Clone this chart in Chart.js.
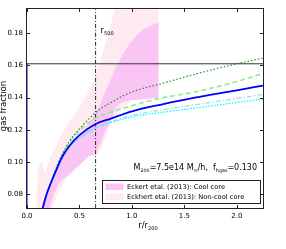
<!DOCTYPE html>
<html>
<head>
<meta charset="utf-8">
<script src="https://cdn.jsdelivr.net/npm/chart.js@4.4.0/dist/chart.umd.min.js"></script>
<style>
  html, body { margin: 0; padding: 0; background: #fff; }
  #wrap { width: 286px; height: 249px; }
</style>
</head>
<body>
<div id="wrap"><canvas id="gasFrac" width="286" height="249"></canvas></div>
<script>
// model curves on r/r200 grid
const rModel = [0.13, 0.143, 0.19, 0.238, 0.286, 0.333, 0.4, 0.5, 0.65, 0.8, 1.0, 1.3, 1.6, 2.0, 2.25];
const fgasSolid   = [0.067, 0.070, 0.0806, 0.0887, 0.0961, 0.103, 0.1097, 0.1167, 0.1235, 0.127, 0.1315, 0.136, 0.140, 0.1445, 0.1475];
const fgasDotted  = [0.067, 0.070, 0.0808, 0.089, 0.0975, 0.1045, 0.1125, 0.1205, 0.1305, 0.137, 0.1435, 0.149, 0.1545, 0.161, 0.1645];
const fgasDashed  = [0.067, 0.070, 0.0806, 0.0888, 0.0965, 0.1035, 0.1115, 0.1195, 0.127, 0.131, 0.135, 0.140, 0.1435, 0.150, 0.155];
const fgasDashDot = [0.067, 0.070, 0.0806, 0.0887, 0.096, 0.1025, 0.1095, 0.1155, 0.1215, 0.125, 0.129, 0.1325, 0.1355, 0.1395, 0.142];
const fgasCyan    = [0.067, 0.070, 0.0806, 0.0886, 0.0958, 0.102, 0.109, 0.115, 0.121, 0.1245, 0.128, 0.131, 0.1335, 0.137, 0.139];

// Eckert et al. (2013) non-cool core band
const rNcc     = [0.09, 0.10, 0.14, 0.17, 0.22, 0.31, 0.38, 0.50, 0.60, 0.65, 0.70, 0.84, 1.0, 1.255];
const nccUpper = [0.068, 0.095, 0.101, 0.093, 0.103, 0.115, 0.123, 0.134, 0.145, 0.152, 0.163, 0.195, 0.215, 0.24];
const nccLower = [0.065, 0.065, 0.065, 0.065, 0.068, 0.083, 0.09, 0.098, 0.104, 0.104, 0.108, 0.13, 0.138, 0.14];

// Eckert et al. (2013) cool core band
const rCc     = [0.15, 0.2, 0.26, 0.31, 0.41, 0.5, 0.59, 0.63, 0.69, 0.76, 0.81, 0.84, 0.89, 0.98, 1.1, 1.255];
const ccUpper = [0.072, 0.082, 0.092, 0.0995, 0.1115, 0.1175, 0.1235, 0.128, 0.135, 0.146, 0.153, 0.158, 0.164, 0.174, 0.182, 0.187];
const ccLower = [0.066, 0.068, 0.0806, 0.0875, 0.093, 0.098, 0.104, 0.1042, 0.110, 0.121, 0.127, 0.1334, 0.1365, 0.1384, 0.139, 0.1396];

const fBaryon = 0.161;
const r500 = 0.654;
const xTicks = [0.0, 0.5, 1.0, 1.5, 2.0];
const yTicks = [0.08, 0.10, 0.12, 0.14, 0.16, 0.18];
const legendLabels = ['Eckert etal. (2013): Cool core', 'Eckhert etal. (2013): Non-cool core'];

const FONT = "'DejaVu Sans', sans-serif";
const xMin = 0, xMax = 2.25, yMin = 0.0715, yMax = 0.195;

const pts = (xs, ys) => xs.map((x, i) => ({ x: x, y: ys[i] }));

function line(data, color, width, dash, order) {
  return {
    data: data, borderColor: color, borderWidth: width, borderDash: dash,
    pointRadius: 0, fill: false, order: order,
    cubicInterpolationMode: 'monotone'
  };
}

const pinkNcc = 'rgb(255,234,240)';
const pinkCc = 'rgb(250,196,244)';

const datasets = [
  { data: pts(rNcc, nccLower), borderColor: 'rgba(0,0,0,0)', borderWidth: 0, pointRadius: 0, fill: false, order: 12 },
  { data: pts(rNcc, nccUpper), borderColor: 'rgba(0,0,0,0)', borderWidth: 0, pointRadius: 0, fill: '-1', backgroundColor: pinkNcc, order: 11 },
  { data: pts(rCc, ccLower), borderColor: 'rgba(0,0,0,0)', borderWidth: 0, pointRadius: 0, fill: false, order: 10 },
  { data: pts(rCc, ccUpper), borderColor: 'rgba(0,0,0,0)', borderWidth: 0, pointRadius: 0, fill: '-1', backgroundColor: pinkCc, order: 9 },
  line([{ x: xMin, y: fBaryon }, { x: xMax, y: fBaryon }], '#333', 1, [], 6),
  line([{ x: r500, y: yMin }, { x: r500, y: yMax }], '#222', 1, [4, 2, 1, 2], 6),
  line(pts(rModel, fgasCyan), '#00ffff', 1.3, [1.5, 1.5], 4),
  line(pts(rModel, fgasDashDot), '#add8e6', 1.3, [5, 2, 1.5, 2], 3),
  line(pts(rModel, fgasDashed), '#90ee90', 1.7, [5, 3], 2),
  line(pts(rModel, fgasDotted), 'rgba(0,128,0,0.85)', 1.2, [1.5, 2], 1),
  line(pts(rModel, fgasSolid), '#0000ff', 1.8, [], 0),
  line([{ x: xMin, y: yMin }, { x: xMin, y: fBaryon }], '#0000ff', 1, [], 0)
];

// text with subscripts: runs of [text, isSub]
function drawRuns(ctx, runs, x, y, size, align) {
  const subSize = size * 0.6;
  const widths = runs.map(([t, sub]) => {
    ctx.font = (sub ? subSize : size) + 'px ' + FONT;
    return ctx.measureText(t).width;
  });
  const total = widths.reduce((a, b) => a + b, 0);
  let cx = align === 'right' ? x - total : align === 'center' ? x - total / 2 : x;
  ctx.textAlign = 'left';
  ctx.textBaseline = 'alphabetic';
  runs.forEach(([t, sub], i) => {
    ctx.font = (sub ? subSize : size) + 'px ' + FONT;
    ctx.fillText(t, cx, sub ? y + size * 0.22 : y);
    cx += widths[i];
  });
}

const framePlugin = {
  id: 'frame',
  beforeDatasetsDraw(chart) {
    const { ctx, chartArea: a } = chart;
    ctx.save();
    ctx.strokeStyle = '#222';
    ctx.lineWidth = 1;
    ctx.strokeRect(a.left - 0.5, a.top - 0.5, a.right - a.left + 1, a.bottom - a.top + 1);
    ctx.restore();
  },
  afterDatasetsDraw(chart) {
    const { ctx, chartArea: a, scales } = chart;
    ctx.save();
    ctx.strokeStyle = '#222';
    ctx.lineWidth = 1;
    ctx.beginPath();
    xTicks.forEach(v => {
      const px = Math.round(scales.x.getPixelForValue(v)) + 0.5;
      ctx.moveTo(px, a.bottom); ctx.lineTo(px, a.bottom - 3);
      ctx.moveTo(px, a.top); ctx.lineTo(px, a.top + 3);
    });
    yTicks.forEach(v => {
      const py = Math.round(scales.y.getPixelForValue(v)) + 0.5;
      ctx.moveTo(a.left, py); ctx.lineTo(a.left + 3, py);
      ctx.moveTo(a.right, py); ctx.lineTo(a.right - 3, py);
    });
    ctx.stroke();
    ctx.restore();
  },
  afterDraw(chart) {
    const { ctx, chartArea: a, scales } = chart;
    ctx.save();
    ctx.fillStyle = '#000';

    // r500 label
    drawRuns(ctx, [['r', false], ['500', true]], scales.x.getPixelForValue(r500) + 5, a.top + 24, 8.5, 'left');

    // halo mass / gas fraction annotation
    drawRuns(ctx, [['M', false], ['200', true], ['=7.5e14 M', false], ['\u2299', true], ['/h,  f', false], ['hgas', true], ['=0.130', false]],
      a.right - 6, 170, 8, 'right');

    // axis titles
    drawRuns(ctx, [['r/r', false], ['200', true]], (a.left + a.right) / 2 + 3, 228, 8.5, 'center');
    ctx.save();
    ctx.translate(6, 106);
    ctx.rotate(-Math.PI / 2);
    ctx.font = '8.5px ' + FONT;
    ctx.textAlign = 'center';
    ctx.textBaseline = 'alphabetic';
    ctx.fillText('gas fraction', 0, 0);
    ctx.restore();

    // legend box
    const bx = 102.5, by = 180.5, bw = 158, bh = 23;
    ctx.fillStyle = '#fff';
    ctx.fillRect(bx, by, bw, bh);
    ctx.strokeStyle = '#222';
    ctx.lineWidth = 1;
    ctx.strokeRect(bx, by, bw, bh);
    const swatches = [pinkCc, pinkNcc];
    legendLabels.forEach((label, i) => {
      const rowY = by + 6 + i * 10;
      ctx.fillStyle = swatches[i];
      ctx.fillRect(bx + 3, rowY - 3, 18, 6.5);
      ctx.fillStyle = '#000';
      ctx.font = '6.7px ' + FONT;
      ctx.textAlign = 'left';
      ctx.textBaseline = 'middle';
      ctx.fillText(label, bx + 24.5, rowY + 0.5);
    });
    ctx.restore();
  }
};

new Chart(document.getElementById('gasFrac'), {
  type: 'scatter',
  data: { datasets: datasets.map(d => Object.assign({ showLine: true }, d)) },
  options: {
    responsive: false,
    animation: false,
    layout: { padding: { left: 0, right: 23, top: 9, bottom: 0 } },
    plugins: { legend: { display: false }, tooltip: { enabled: false } },
    scales: {
      x: {
        type: 'linear', min: xMin, max: xMax,
        grid: { display: false, drawTicks: false },
        border: { display: false },
        ticks: { font: { family: FONT, size: 7 }, color: '#000', padding: 4, callback: v => v.toFixed(1) },
        afterBuildTicks: s => { s.ticks = xTicks.map(v => ({ value: v })); },
        afterFit: s => { s.height = 41; }
      },
      y: {
        type: 'linear', min: yMin, max: yMax,
        grid: { display: false, drawTicks: false },
        border: { display: false },
        ticks: { font: { family: FONT, size: 7 }, color: '#000', padding: 4, callback: v => v.toFixed(2) },
        afterBuildTicks: s => { s.ticks = yTicks.map(v => ({ value: v })); },
        afterFit: s => { s.width = 27; }
      }
    }
  },
  plugins: [framePlugin]
});
</script>
</body>
</html>
